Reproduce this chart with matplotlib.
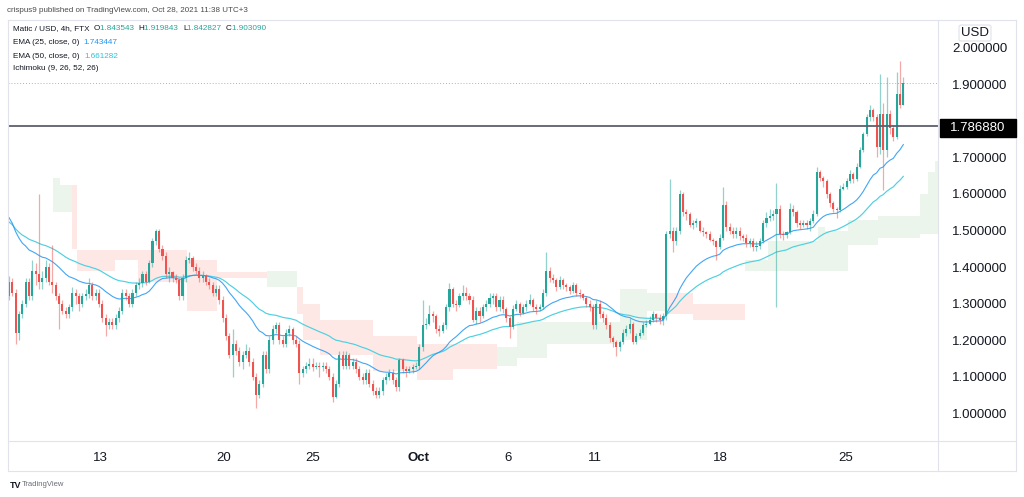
import numpy as np
import matplotlib
matplotlib.use("Agg")
import matplotlib.pyplot as plt
from matplotlib.lines import Line2D
from matplotlib.patches import Rectangle

# ---------------- data ----------------
first_open = 1.32
closes_a = [1.36,1.33,1.22,1.27,1.30,1.36,1.32,1.39,1.38,1.36,
            1.37,1.40,1.36,1.35,1.32,1.30,1.28,1.27,1.29,1.33,
            1.32,1.30,1.32,1.325,1.35,1.32,1.33,1.30,1.26,1.24,
            1.25,1.24,1.26,1.28,1.33,1.32,1.30,1.33,1.35,1.355,
            1.38,1.36,1.41,1.47,1.50,1.45,1.43,1.38,1.385,1.37,
            1.365,1.32,1.37,1.42,1.425,1.40,1.39,1.37,1.375,1.36,
            1.35,1.33,1.34,1.31,1.26,1.21,1.16,1.19]
highs_a = [1.375,1.37,1.34,1.28,1.31,1.37,1.37,1.42,1.41,1.60,
           1.39,1.42,1.41,1.46,1.36,1.33,1.31,1.29,1.30,1.345,
           1.34,1.33,1.33,1.34,1.37,1.36,1.34,1.34,1.31,1.27,
           1.26,1.26,1.27,1.29,1.34,1.34,1.33,1.34,1.36,1.37,
           1.39,1.39,1.42,1.48,1.505,1.505,1.46,1.44,1.40,1.39,
           1.38,1.37,1.38,1.43,1.44,1.43,1.41,1.40,1.39,1.38,
           1.37,1.36,1.35,1.35,1.32,1.27,1.22,1.23]
lows_a = [1.31,1.32,1.19,1.20,1.26,1.29,1.31,1.31,1.35,1.34,
          1.34,1.36,1.35,1.33,1.31,1.23,1.27,1.26,1.26,1.28,
          1.30,1.28,1.29,1.31,1.315,1.31,1.31,1.29,1.25,1.21,
          1.23,1.23,1.23,1.25,1.27,1.31,1.29,1.29,1.32,1.34,
          1.345,1.35,1.355,1.40,1.46,1.44,1.42,1.37,1.36,1.36,
          1.355,1.31,1.31,1.36,1.41,1.39,1.38,1.36,1.36,1.35,
          1.34,1.32,1.32,1.30,1.25,1.20,1.15,1.10]

closes_b = [1.17,1.14,1.16,1.17,1.14,1.10,1.05,1.08,1.16,1.12,
            1.20,1.23,1.24,1.20,1.19,1.22,1.23,1.20,1.19,1.11,
            1.12,1.13,1.135,1.125,1.13,1.125,1.13,1.12,1.10,1.045,
            1.08,1.16,1.13,1.16,1.13,1.14,1.12,1.10,1.09,1.11,
            1.08,1.06,1.05,1.06,1.09,1.10,1.11,1.09,1.07,1.145,
            1.12,1.115,1.12,1.125,1.13,1.18,1.24,1.245,1.27,1.265,
            1.23,1.225,1.24,1.29,1.34,1.30,1.295,1.32]
highs_b = [1.20,1.18,1.17,1.19,1.18,1.15,1.11,1.09,1.17,1.17,
           1.21,1.24,1.25,1.25,1.21,1.23,1.24,1.235,1.21,1.20,
           1.13,1.14,1.15,1.15,1.14,1.14,1.14,1.14,1.13,1.11,
           1.09,1.17,1.17,1.17,1.165,1.15,1.15,1.13,1.11,1.12,
           1.12,1.09,1.07,1.07,1.10,1.11,1.12,1.12,1.10,1.15,
           1.15,1.13,1.13,1.135,1.14,1.19,1.31,1.26,1.295,1.28,
           1.27,1.24,1.25,1.30,1.355,1.345,1.31,1.33]
lows_b = [1.16,1.13,1.12,1.15,1.13,1.09,1.015,1.04,1.07,1.11,
          1.11,1.19,1.22,1.19,1.18,1.18,1.21,1.19,1.18,1.08,
          1.10,1.11,1.12,1.115,1.12,1.10,1.115,1.11,1.09,1.03,
          1.04,1.07,1.12,1.12,1.12,1.12,1.11,1.09,1.08,1.08,
          1.07,1.05,1.04,1.04,1.05,1.08,1.09,1.08,1.06,1.06,
          1.11,1.10,1.11,1.11,1.12,1.12,1.17,1.23,1.24,1.25,
          1.22,1.21,1.22,1.23,1.28,1.29,1.28,1.29]

closes_c = [1.33,1.32,1.31,1.255,1.28,1.265,1.29,1.30,1.315,1.32,
            1.29,1.31,1.285,1.26,1.235,1.285,1.30,1.275,1.29,1.30,
            1.31,1.29,1.285,1.29,1.33,1.39,1.37,1.365,1.345,1.365,
            1.35,1.345,1.335,1.35,1.33,1.325,1.315,1.30,1.29,1.24,
            1.30,1.27,1.26,1.24,1.205,1.195,1.18,1.195,1.22,1.23,
            1.245,1.195,1.21,1.22,1.24,1.245,1.255,1.27,1.26,1.255,
            1.265,1.49,1.50,1.47,1.50,1.60,1.55,1.545]
highs_c = [1.35,1.345,1.33,1.32,1.29,1.29,1.30,1.31,1.33,1.33,
           1.33,1.32,1.32,1.29,1.265,1.295,1.31,1.305,1.30,1.31,
           1.325,1.315,1.30,1.30,1.34,1.44,1.40,1.38,1.37,1.375,
           1.37,1.355,1.35,1.36,1.355,1.34,1.33,1.32,1.31,1.30,
           1.31,1.31,1.28,1.27,1.25,1.21,1.20,1.20,1.23,1.24,
           1.26,1.25,1.22,1.23,1.25,1.255,1.265,1.28,1.275,1.27,
           1.275,1.50,1.64,1.51,1.51,1.61,1.605,1.56]
lows_c = [1.31,1.31,1.30,1.25,1.245,1.25,1.26,1.28,1.29,1.30,
          1.28,1.28,1.275,1.25,1.205,1.23,1.28,1.265,1.27,1.28,
          1.295,1.28,1.27,1.28,1.285,1.32,1.36,1.355,1.335,1.34,
          1.34,1.335,1.325,1.33,1.32,1.315,1.31,1.29,1.28,1.23,
          1.23,1.26,1.25,1.23,1.195,1.18,1.155,1.17,1.19,1.21,
          1.22,1.19,1.19,1.205,1.215,1.235,1.24,1.25,1.25,1.245,
          1.24,1.255,1.48,1.44,1.46,1.49,1.54,1.53]

closes_d = [1.515,1.52,1.525,1.50,1.495,1.49,1.475,1.47,1.455,1.48,
            1.57,1.51,1.50,1.49,1.50,1.485,1.48,1.465,1.47,1.455,
            1.457,1.47,1.52,1.535,1.54,1.545,1.56,1.49,1.488,1.495,
            1.56,1.55,1.52,1.515,1.52,1.515,1.525,1.545,1.66,1.645,
            1.635,1.60,1.575,1.56,1.555,1.615,1.62,1.635,1.655,1.64,
            1.675,1.72,1.765,1.81,1.83,1.81,1.73,1.82,1.72,1.82,
            1.78,1.755,1.875,1.843543,1.90309]
highs_d = [1.55,1.53,1.535,1.53,1.51,1.50,1.50,1.48,1.475,1.49,
           1.62,1.58,1.52,1.51,1.51,1.51,1.49,1.49,1.48,1.48,
           1.47,1.48,1.53,1.55,1.56,1.555,1.63,1.57,1.50,1.50,
           1.575,1.57,1.555,1.53,1.53,1.53,1.535,1.555,1.675,1.665,
           1.65,1.64,1.605,1.58,1.565,1.625,1.63,1.645,1.665,1.66,
           1.685,1.73,1.77,1.82,1.845,1.835,1.82,1.93,1.85,1.92,
           1.83,1.79,1.935,1.965,1.919843]
lows_d = [1.51,1.505,1.51,1.495,1.485,1.48,1.47,1.46,1.42,1.45,
          1.475,1.50,1.49,1.48,1.48,1.475,1.47,1.455,1.455,1.445,
          1.445,1.45,1.465,1.51,1.525,1.53,1.29,1.48,1.475,1.48,
          1.49,1.54,1.51,1.505,1.51,1.505,1.50,1.52,1.54,1.635,
          1.62,1.59,1.565,1.55,1.535,1.55,1.61,1.615,1.63,1.63,
          1.635,1.67,1.715,1.76,1.80,1.80,1.70,1.71,1.61,1.70,
          1.765,1.745,1.75,1.835,1.842827]

# EMA values at the left edge of the chart
ema25_start = 1.55
ema50_start = 1.53

# Ichimoku cloud (leading spans A and B), step breakpoints by candle slot
cloud_slot = [13.2, 15.3, 18.9, 20.4, 31.8, 38.7, 53.3, 62.3, 77.3, 86.3, 88.1, 93.2,
              109.0, 122.3, 133.0, 146.2, 152.2, 161.2, 183.1, 191.2, 197.2, 205.0,
              220.6, 227.4, 242.4, 244.5, 251.4, 260.4, 273.0, 275.4, 277.5, 279.0]
span_a = [1.645, 1.625, 1.45, 1.39, 1.42, 1.36, 1.28, 1.37, 1.39, 1.27, 1.20, 1.16,
          1.115, 1.09, 1.12, 1.18, 1.25, 1.25, 1.34, 1.33, 1.27, 1.255,
          1.42, 1.47, 1.51, 1.50, 1.53, 1.54, 1.60, 1.66, 1.69, 1.69]
span_b = [1.55, 1.55, 1.625, 1.447, 1.447, 1.447, 1.42, 1.385, 1.345, 1.345, 1.30, 1.255,
          1.21, 1.19, 1.19, 1.13, 1.15, 1.19, 1.20, 1.28, 1.33, 1.30,
          1.39, 1.39, 1.39, 1.39, 1.46, 1.48, 1.49, 1.49, 1.49, 1.49]

date_labels = ["13", "20", "25", "Oct", "6", "11", "18", "25"]
date_slots = [27.3, 64.4, 91.1, 122.6, 149.5, 175.6, 213.1, 250.8]
price_ticks = [1.0, 1.1, 1.2, 1.3, 1.4, 1.5, 1.6, 1.7, 1.9, 2.0]
hline_level = 1.786880
legend_ohlc = (1.843543, 1.919843, 1.842827, 1.903090)
legend_ema = (1.743447, 1.661282)

# ---------------- build ----------------
closes = np.array(closes_a + closes_b + closes_c + closes_d)
highs = np.array(highs_a + highs_b + highs_c + highs_d)
lows = np.array(lows_a + lows_b + lows_c + lows_d)
opens = np.concatenate([[first_open], closes[:-1]])
idx = np.arange(len(closes))

def ema(values, n, start):
    k = 2.0 / (n + 1)
    out = []
    prev = start
    for v in values:
        prev = k * v + (1 - k) * prev
        out.append(prev)
    return np.array(out)

ema25 = ema(closes, 25, ema25_start)
ema50 = ema(closes, 50, ema50_start)

GREEN = "#26a69a"
RED = "#ef5350"

W, H = 1024, 497
plt.rcParams['font.family'] = ['Liberation Sans', 'DejaVu Sans']
fig = plt.figure(figsize=(W / 100, H / 100), dpi=100)
fig.patch.set_facecolor("white")

L, R, T, B = 8, 938, 20, 441
ax = fig.add_axes([L / W, 1 - B / H, (R - L) / W, (B - T) / H])
ax.set_facecolor("white")
ax.set_xlim(-0.3, 278.4)
ax.set_ylim(0.9233, 2.0767)

# cloud: one step per breakpoint, drawn as bars spanning to the next breakpoint
cs = np.array(cloud_slot, dtype=float)
sa = np.array(span_a)[:-1]
sb = np.array(span_b)[:-1]
widths = np.diff(cs)
lo = np.minimum(sa, sb)
hgt = np.abs(sa - sb)
cloud_cols = np.where(sa >= sb, "#43a04719", "#f443361f")
ax.bar(cs[:-1], hgt, bottom=lo, width=widths, align="edge", color=cloud_cols,
       linewidth=0, zorder=1)

# EMAs
ax.plot(idx, ema50, color="#4dd0e1", lw=0.85, zorder=3)
ax.plot(idx, ema25, color="#2196f3", lw=0.8, alpha=0.85, zorder=3)

# candles
up = closes >= opens
colors = np.where(up, GREEN, RED)
ax.vlines(idx, lows, highs, colors=colors, lw=0.9, alpha=0.5, zorder=4)
body_bottom = np.minimum(opens, closes)
body_h = np.maximum(np.abs(closes - opens), 0.003)
ax.bar(idx, body_h, bottom=body_bottom, width=0.62, color=colors, linewidth=0, zorder=5)

# horizontal level + last price line
ax.axhline(hline_level, color="#5d606b", lw=1.3, zorder=6)
ax.axhline(closes[-1], color=GREEN, lw=0.7, ls=(0, (1, 2)), alpha=0.6, zorder=2)

for s in ax.spines.values():
    s.set_visible(False)

ax.yaxis.tick_right()
ax.set_yticks(price_ticks)
ax.set_yticklabels([f"{v:.6f}" for v in price_ticks])
ax.tick_params(axis="y", length=0, pad=10, labelsize=9.5, labelcolor="#131722")
ax.set_xticks(date_slots)
ax.set_xticklabels(date_labels)
ax.tick_params(axis="x", length=0, pad=8, labelsize=9.5, labelcolor="#131722")
for lab in ax.get_xticklabels():
    if lab.get_text() == "Oct":
        lab.set_fontweight("bold")

# frame lines
def fline(x0, y0, x1, y1, c="#e0e3eb", lw=0.8):
    fig.add_artist(Line2D([x0 / W, x1 / W], [1 - y0 / H, 1 - y1 / H], color=c, lw=lw))

fline(8, 20, 1016, 20)
fline(8, 471, 1016, 471)
fline(8, 20, 8, 471)
fline(1016, 20, 1016, 471)
fline(938, 20, 938, 471)
fline(8, 441, 1016, 441)

# price label box for the level
fig.add_artist(Rectangle((940 / W, 1 - 137 / H), 76 / W, 18 / H, color="black", zorder=10))
fig.text(978 / W, 1 - 128 / H, f"{hline_level:.6f}", color="white", fontsize=9.5,
         ha="center", va="center", zorder=11)

# USD label
fig.text(975 / W, 1 - 33 / H, "USD", color="#131722", fontsize=9.5, ha="center", va="center",
         bbox=dict(boxstyle="round,pad=0.15", fc="white", ec="#e0e3eb", lw=0.8))

# header
fig.text(7 / W, 1 - 10 / H, "crispus9 published on TradingView.com, Oct 28, 2021 11:38 UTC+3",
         fontsize=5.75, color="#4a4a4a", va="center", ha="left")

# legend
o, h, l, c = legend_ohlc
lx = 13 / W
y0 = 1 - 29 / H
fs = 5.9
t = fig.text(lx, y0, "Matic / USD, 4h, FTX  ", fontsize=fs, color="#131722", va="center")
fig.canvas.draw()
renderer = fig.canvas.get_renderer()

def after(txt):
    bb = txt.get_window_extent(renderer=renderer)
    return bb.x1 / W

x = after(t)
for key, val in (("O", o), ("H", h), ("L", l), ("C", c)):
    t1 = fig.text(x, y0, key, fontsize=fs, color="#131722", va="center")
    x = after(t1)
    t2 = fig.text(x, y0, f"{val:.6f}  ", fontsize=fs, color=GREEN, va="center")
    x = after(t2)

t = fig.text(lx, 1 - 43 / H, "EMA (25, close, 0)  ", fontsize=fs, color="#131722", va="center")
fig.text(after(t), 1 - 43 / H, f"{legend_ema[0]:.6f}", fontsize=fs, color="#2196f3", va="center")
t = fig.text(lx, 1 - 56 / H, "EMA (50, close, 0)  ", fontsize=fs, color="#131722", va="center")
fig.text(after(t), 1 - 56 / H, f"{legend_ema[1]:.6f}", fontsize=fs, color="#26c6da", va="center")
fig.text(lx, 1 - 69 / H, "Ichimoku (9, 26, 52, 26)", fontsize=fs, color="#131722", va="center")

# footer logo
fig.text(10 / W, 1 - 485 / H, "TV", fontsize=6.5, fontweight="bold", color="#131722", va="center")
fig.text(22 / W, 1 - 485 / H, "TradingView", fontsize=5.5, color="#6a6d78", va="center")

fig.savefig("out.png", dpi=100, facecolor="white")
